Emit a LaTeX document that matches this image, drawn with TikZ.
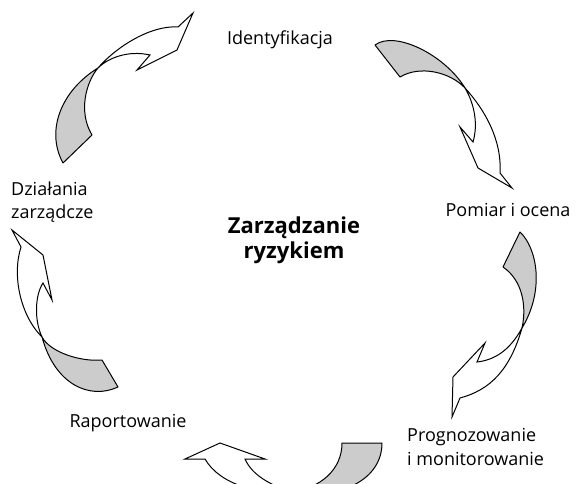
\documentclass[tikz,border=0pt]{standalone}
\usepackage{fontspec}
\setmainfont{Open Sans}
\usetikzlibrary{positioning}

\begin{document}
\begin{tikzpicture}[x=1pt, y=-1pt,
    back/.style={draw=black, fill=black!20, line width=1pt, line join=round},
    front/.style={draw=black, fill=white, line width=1pt, line join=miter},
    stage/.style={font=\fontsize{18}{23.5}\selectfont, inner sep=0pt},
    core/.style={font=\fontsize{22}{25}\selectfont\bfseries, align=center, inner sep=0pt}
]

\useasboundingbox (0,0) rectangle (579,484);
\clip (0,0) rectangle (579,484);

% Stages of the cycle
\node[stage] (ident) at (280,40) {Identyfikacja};
\node[stage] (pomiar) at (508,210) {Pomiar i ocena};
\node[stage, anchor=west, align=left] (prog) at (407,447) {Prognozowanie\\i monitorowanie};
\node[stage] (raport) at (128,423) {Raportowanie};
\node[stage, anchor=west, align=left] (dzial) at (11,202) {Dzia\l{}ania\\zarz\k{a}dcze};
\node[core] (center) at (294,240) {Zarz\k{a}dzanie\\ryzykiem};

% Arrow: Dzialania -> Identyfikacja
\path[back] (63,163) .. controls (45,130) and (62,90) .. (98,68)
    .. controls (86,82) and (78,112) .. (92,135) -- cycle;
\path[front] (98,68) .. controls (115,48) and (150,25) .. (178,27) -- (193,13) -- (177,50)
    -- (137,70) -- (150,55) .. controls (128,50) and (108,58) .. (98,68) -- cycle;

% Arrow: Identyfikacja -> Pomiar
\path[back] (375,45) .. controls (395,30) and (445,55) .. (465,88)
    .. controls (450,72) and (420,65) .. (400,77) -- cycle;
\path[front] (465,88) .. controls (485,110) and (502,140) .. (500,173) -- (512,188) -- (478,168)
    -- (460,127) -- (473,142) .. controls (478,125) and (475,105) .. (465,88) -- cycle;

% Arrow: Pomiar -> Prognozowanie
\path[back] (520,232) .. controls (537,248) and (545,290) .. (522,328)
    .. controls (527,305) and (522,280) .. (503,267) -- cycle;
\path[front] (522,328) .. controls (510,350) and (495,360) .. (477,362) -- (485,343) -- (453,377)
    -- (452,417) -- (460,398) .. controls (490,390) and (510,370) .. (522,328) -- cycle;

% Arrow: Prognozowanie -> Raportowanie
\path[back] (292,492) .. controls (320,488) and (342,470) .. (342,443) -- (382,443)
    .. controls (382,480) and (340,500) .. (292,492) -- cycle;
\path[front] (292,492) .. controls (270,485) and (252,475) .. (245,459) -- (265,459) -- (220,443)
    -- (185,459) -- (205,459) .. controls (220,485) and (260,495) .. (292,492) -- cycle;

% Arrow: Raportowanie -> Dzialania
\path[back] (42,337) .. controls (50,352) and (80,362) .. (102,360) -- (118,387)
    .. controls (90,400) and (55,385) .. (42,337) -- cycle;
\path[front] (42,337) .. controls (20,315) and (12,275) .. (21,247) -- (12,230) -- (43,255)
    -- (52,300) -- (43,283) .. controls (35,295) and (34,320) .. (42,337) -- cycle;

\end{tikzpicture}
\end{document}
